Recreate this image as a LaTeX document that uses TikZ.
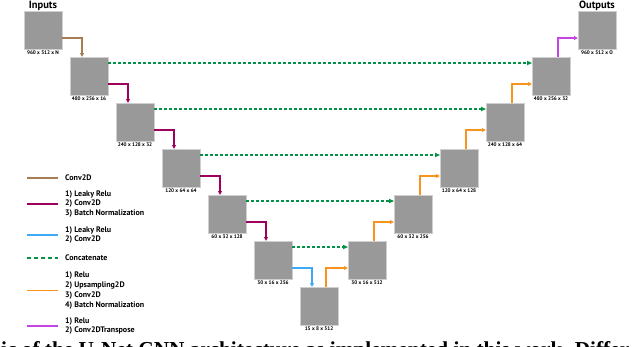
\documentclass[tikz,border=0pt]{standalone}
\usepackage{fontspec}
\setmainfont{PT Sans}
\newfontfamily\captionfont{Liberation Serif}
\usepackage{xcolor}
\usepackage{tikz}
\usetikzlibrary{arrows.meta, positioning}
\definecolor{boxgray}{HTML}{999999}
\definecolor{boxedge}{HTML}{CFCFCF}
\definecolor{convbrown}{HTML}{A67C52}
\definecolor{downmag}{HTML}{9E005D}
\definecolor{leakyblue}{HTML}{3FA9F5}
\definecolor{concatgreen}{HTML}{009245}
\definecolor{uporange}{HTML}{F7931E}
\definecolor{transviolet}{HTML}{C445E6}

\begin{document}
\begin{tikzpicture}[x=1pt, y=-1pt, node distance=8pt and 8pt,
  fmap/.style={rectangle, fill=boxgray, draw=boxedge, line width=0.6pt,
    minimum width=38pt, minimum height=38pt, inner sep=0pt, outer sep=0pt},
  dimtext/.style={font=\fontsize{5.2}{6}\selectfont\bfseries, inner sep=0pt},
  titletext/.style={font=\fontsize{10.5}{12}\selectfont\bfseries, inner sep=0pt},
  legtext/.style={font=\fontsize{8}{9.7}\selectfont\bfseries, align=left, anchor=west, inner sep=0pt},
  arr/.style={-{Triangle[length=4pt,width=3.8pt]}, line width=1.4pt},
  cat/.style={-{Triangle[length=5pt,width=4.2pt]}, line width=1.2pt, dash pattern=on 3pt off 2pt, color=concatgreen},
  leg/.style={line width=1.5pt}]

  \useasboundingbox (0,0) rectangle (640,346);

  % encoder
  \node[fmap, label={[dimtext, label distance=1.4pt]below:960 x 512 x N}] (b0) at (43,30) {};
  \node[fmap, below right=of b0, label={[dimtext, label distance=1.4pt]below:480 x 256 x 16}] (b1) {};
  \node[fmap, below right=of b1, label={[dimtext, label distance=1.4pt]below:240 x 128 x 32}] (b2) {};
  \node[fmap, below right=of b2, label={[dimtext, label distance=1.4pt]below:120 x 64 x 64}] (b3) {};
  \node[fmap, below right=of b3, label={[dimtext, label distance=1.4pt]below:60 x 32 x 128}] (b4) {};
  \node[fmap, below right=of b4, label={[dimtext, label distance=1.4pt]below:30 x 16 x 256}] (b5) {};
  \node[fmap, below right=of b5, label={[dimtext, label distance=1.4pt]below:15 x 8 x 512}] (b6) {};

  % decoder
  \node[fmap, label={[dimtext, label distance=1.4pt]below:960 x 512 x O}] (d0) at (597,30) {};
  \node[fmap, below left=of d0, label={[dimtext, label distance=1.4pt]below:480 x 256 x 32}] (d1) {};
  \node[fmap, below left=of d1, label={[dimtext, label distance=1.4pt]below:240 x 128 x 64}] (d2) {};
  \node[fmap, below left=of d2, label={[dimtext, label distance=1.4pt]below:120 x 64 x 128}] (d3) {};
  \node[fmap, below left=of d3, label={[dimtext, label distance=1.4pt]below:60 x 32 x 256}] (d4) {};
  \node[fmap, below left=of d4, label={[dimtext, label distance=1.4pt]below:30 x 16 x 512}] (d5) {};

  \node[titletext, anchor=base] (intitle) at ([yshift=3pt]b0.north) {Inputs};
  \node[titletext, anchor=base] (outtitle) at ([yshift=3pt]d0.north) {Outputs};

  % downsampling path
  \draw[arr, convbrown] ([yshift=-8pt]b0.east) -| ([xshift=-7pt]b1.north);
  \draw[arr, downmag] ([yshift=-8pt]b1.east) -| ([xshift=-7pt]b2.north);
  \draw[arr, downmag] ([yshift=-8pt]b2.east) -| ([xshift=-7pt]b3.north);
  \draw[arr, downmag] ([yshift=-8pt]b3.east) -| ([xshift=-7pt]b4.north);
  \draw[arr, downmag] ([yshift=-8pt]b4.east) -| ([xshift=-7pt]b5.north);
  \draw[arr, leakyblue] ([yshift=-8pt]b5.east) -| ([xshift=-7pt]b6.north);

  % upsampling path
  \draw[arr, uporange] ([xshift=7pt]b6.north) |- ([yshift=-8pt]d5.west);
  \draw[arr, uporange] ([xshift=7pt]d5.north) |- ([yshift=-8pt]d4.west);
  \draw[arr, uporange] ([xshift=7pt]d4.north) |- ([yshift=-8pt]d3.west);
  \draw[arr, uporange] ([xshift=7pt]d3.north) |- ([yshift=-8pt]d2.west);
  \draw[arr, uporange] ([xshift=7pt]d2.north) |- ([yshift=-8pt]d1.west);
  \draw[arr, transviolet] ([xshift=7pt]d1.north) |- ([yshift=-8pt]d0.west);

  % skip connections
  \draw[cat] ([yshift=13pt]b1.east) -- ([yshift=13pt]d1.west);
  \draw[cat] ([yshift=13pt]b2.east) -- ([yshift=13pt]d2.west);
  \draw[cat] ([yshift=13pt]b3.east) -- ([yshift=13pt]d3.west);
  \draw[cat] ([yshift=13pt]b4.east) -- ([yshift=13pt]d4.west);
  \draw[cat] ([yshift=13pt]b5.east) -- ([yshift=13pt]d5.west);

  % legend
  \node[legtext] (lconv) at (65,178) {Conv2D};
  \node[legtext] (lleakybn) at (65,204) {1) Leaky Relu\\2) Conv2D\\3) Batch Normalization};
  \node[legtext] (lleaky) at (65,235) {1) Leaky Relu\\2) Conv2D};
  \node[legtext] (lcat) at (65,258) {Concatenate};
  \node[legtext] (lup) at (65,290.5) {1) Relu\\2) Upsampling2D\\3) Conv2D\\4) Batch Normalization};
  \node[legtext] (ltrans) at (65,326) {1) Relu\\2) Conv2DTranspose};

  \draw[leg, convbrown] ([xshift=-38pt]lconv.west) -- ([xshift=-7pt]lconv.west);
  \draw[leg, downmag] ([xshift=-38pt]lleakybn.west) -- ([xshift=-7pt]lleakybn.west);
  \draw[leg, leakyblue] ([xshift=-38pt]lleaky.west) -- ([xshift=-7pt]lleaky.west);
  \draw[leg, concatgreen, dash pattern=on 4pt off 3pt] ([xshift=-38pt]lcat.west) -- ([xshift=-7pt]lcat.west);
  \draw[leg, uporange] ([xshift=-38pt]lup.west) -- ([xshift=-7pt]lup.west);
  \draw[leg, transviolet] ([xshift=-38pt]ltrans.west) -- ([xshift=-7pt]ltrans.west);

  % caption, cut off by the page edge
  \begin{scope}
    \clip (0,0) rectangle (640,346);
    \node[anchor=base west, inner sep=0pt, font=\captionfont\bfseries\fontsize{21.3}{24}\selectfont] (caption) at (1,356)
      {ic of the U-Net CNN architecture as implemented in this work. Differ};
  \end{scope}
\end{tikzpicture}
\end{document}
